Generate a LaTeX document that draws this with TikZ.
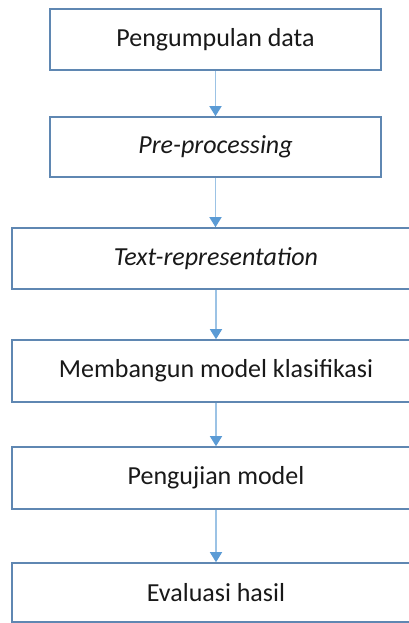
\documentclass[tikz,border=0pt]{standalone}
\usepackage{fontspec}
\setmainfont{Carlito}
\usetikzlibrary{arrows.meta}
\definecolor{boxblue}{HTML}{5F87B2}
\definecolor{arrline}{HTML}{9CC3E5}
\definecolor{arrhead}{HTML}{5B9BD5}
\tikzset{
  stepbox/.style={draw=boxblue, line width=1.6pt, rectangle, fill=white, align=center,
    font=\fontsize{26}{31}\selectfont, text=black!90},
  narrowbox/.style={stepbox, minimum width=331pt, minimum height=61pt, inner sep=0pt},
  widebox/.style={stepbox, minimum width=408pt, minimum height=61pt, inner sep=0pt},
  flow/.style={draw=arrline, line width=1.5pt, -{Triangle[width=12pt,length=10pt,color=arrhead]}}
}
\begin{document}
\begin{tikzpicture}[x=1pt,y=-1pt]
\useasboundingbox (0,0) rectangle (409,623);
\clip (0,0) rectangle (409,623);
\node[narrowbox] (b1) at (215.5,39.5) {Pengumpulan data};
\node[narrowbox, minimum height=60pt] (b2) at (215.5,147) {\itshape Pre-processing};
\node[widebox] (b3) at (216,258.5) {\itshape Text-representation};
\node[widebox, minimum height=62pt] (b4) at (216,371) {Membangun model klasifikasi};
\node[widebox, minimum height=62pt] (b5) at (216,478) {Pengujian model};
\node[widebox, minimum height=59pt] (b6) at (216,592.5) {Evaluasi hasil};
\draw[flow] (b1.south) -- (b2.north);
\draw[flow] (b2.south) -- (b2.south |- b3.north);
\draw[flow] (b3.south) -- (b4.north);
\draw[flow] (b4.south) -- (b5.north);
\draw[flow] (b5.south) -- (b6.north);
\end{tikzpicture}
\end{document}
